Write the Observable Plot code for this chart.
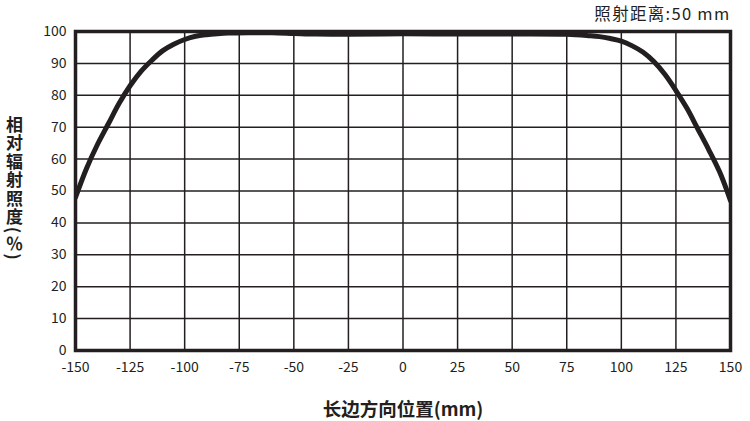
<!DOCTYPE html>
<html>
<head>
<meta charset="utf-8">
<script src="https://cdn.jsdelivr.net/npm/d3@7"></script>
<script src="https://cdn.jsdelivr.net/npm/@observablehq/plot@0.6"></script>
<style>
  html, body { margin: 0; padding: 0; background: #fff; }
</style>
</head>
<body>
<div id="chart"></div>
<script>
const positions = [-150, -145, -140, -135, -130, -125, -120, -115, -110, -105, -100, -95, -90, -85, -80, -70, -60, -50, -40, -25, 0, 25, 50, 75, 85, 90, 95, 100, 105, 110, 115, 120, 125, 130, 135, 140, 145, 150];
const irradiance = [48, 57, 64.5, 71, 77.5, 83, 87.5, 91, 94, 96, 97.5, 98.5, 99, 99.3, 99.5, 99.6, 99.6, 99.4, 99.2, 99.1, 99.3, 99.2, 99.2, 99.1, 98.7, 98.4, 97.8, 97, 95.5, 93.5, 90.5, 86.5, 81.5, 76, 69.5, 63, 56, 47];
const xTicks = [-150, -125, -100, -75, -50, -25, 0, 25, 50, 75, 100, 125, 150];
const yTicks = [0, 10, 20, 30, 40, 50, 60, 70, 80, 90, 100];
const titleText = "照射距离:50 mm";
const xLabel = "长边方向位置(mm)";
const yLabel = "相对辐射照度(％)";

const data = positions.map((p, i) => ({x: p, y: irradiance[i]}));
const ink = "#231f20";

const chart = Plot.plot({
  width: 750,
  height: 421,
  marginTop: 31,
  marginBottom: 71,
  marginLeft: 75,
  marginRight: 20,
  style: {fontFamily: "'Noto Sans CJK SC', 'Noto Sans', sans-serif", fontSize: "14px", color: ink, background: "#fff"},
  x: {domain: [-150, 150]},
  y: {domain: [0, 100]},
  marks: [
    Plot.gridX(xTicks, {stroke: ink, strokeOpacity: 1, strokeWidth: 1.5}),
    Plot.gridY(yTicks, {stroke: ink, strokeOpacity: 1, strokeWidth: 1.5}),
    Plot.line(data, {x: "x", y: "y", curve: "catmull-rom", stroke: ink, strokeWidth: 5, clip: true}),
    Plot.frame({stroke: ink, strokeWidth: 3.5}),
    Plot.axisX(xTicks, {tickSize: 0, tickPadding: 12, label: null, fontSize: 14, fill: ink, tickFormat: d => String(d)}),
    Plot.axisY(yTicks, {tickSize: 0, tickPadding: 9, label: null, fontSize: 14, fill: ink, tickFormat: d => String(d)}),
    Plot.text([titleText], {text: d => d, frameAnchor: "top-right", textAnchor: "end", lineAnchor: "middle", dy: -17, dx: 0, fontSize: 16.5, fill: ink}),
    Plot.text([xLabel], {text: d => d, frameAnchor: "bottom", lineAnchor: "middle", dy: 60, fontSize: 18.5, fontWeight: "bold", fill: ink}),
    Plot.text([yLabel], {text: d => d, frameAnchor: "left", dx: -61, dy: -8, textAnchor: "middle", lineAnchor: "middle", fontSize: 17, fontWeight: "bold", fill: ink})
  ]
});
chart.querySelectorAll("text").forEach(t => {
  if (t.textContent === titleText) t.style.letterSpacing = "1.3px";
  if (t.textContent === yLabel) {
    t.style.writingMode = "vertical-rl";
    t.style.letterSpacing = "1.5px";
  }
});
document.getElementById("chart").appendChild(chart);
</script>
</body>
</html>
